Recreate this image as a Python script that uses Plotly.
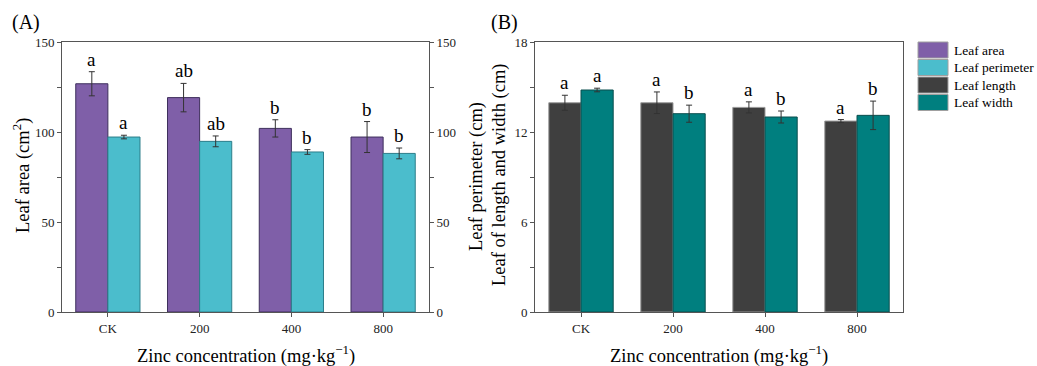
import plotly.graph_objects as go

categories = ["CK", "200", "400", "800"]

# Panel A
leaf_area = [126.8, 119.1, 102.0, 97.2]
leaf_area_err = [6.7, 7.9, 4.8, 8.6]
leaf_area_sig = ["a", "ab", "b", "b"]
leaf_perimeter = [97.2, 94.8, 88.9, 88.1]
leaf_perimeter_err = [1.0, 3.0, 1.3, 3.0]
leaf_perimeter_sig = ["a", "ab", "b", "b"]

# Panel B
leaf_length = [13.95, 13.95, 13.64, 12.73]
leaf_length_err = [0.5, 0.72, 0.37, 0.1]
leaf_length_sig = ["a", "a", "a", "a"]
leaf_width = [14.8, 13.22, 13.0, 13.11]
leaf_width_err = [0.12, 0.57, 0.4, 0.95]
leaf_width_sig = ["a", "b", "b", "b"]

series_names = ["Leaf area", "Leaf perimeter", "Leaf length", "Leaf width"]
colors = ["#7F5FA8", "#4BBDCC", "#3F3F3F", "#007F7F"]
edges = ["#3E2F5C", "#2C7E8A", "#9A9A9A", "#0B4F4F"]

FONT = "Liberation Serif, Times New Roman, serif"
W, H = 1037, 366
BW = 0.35

def px(x):
    return x / W

def py(y):
    return 1 - y / H

fig = go.Figure()

def add_bar(vals, errs, name, ci, xa, ya, offset):
    fig.add_trace(go.Bar(
        x=categories, y=vals, name=name, xaxis=xa, yaxis=ya,
        width=BW, offset=offset,
        marker=dict(color=colors[ci], line=dict(color=edges[ci], width=1)),
        error_y=dict(type="data", array=errs, visible=True,
                     color="#333333", thickness=1, width=3),
        showlegend=False,
    ))

add_bar(leaf_area, leaf_area_err, series_names[0], 0, "x", "y", -BW)
add_bar(leaf_perimeter, leaf_perimeter_err, series_names[1], 1, "x", "y3", 0)
add_bar(leaf_length, leaf_length_err, series_names[2], 2, "x2", "y2", -BW)
add_bar(leaf_width, leaf_width_err, series_names[3], 3, "x2", "y2", 0)

annotations = []

def add_letters(vals, errs, sigs, xref, yref, shift):
    for i, (v, e, s) in enumerate(zip(vals, errs, sigs)):
        annotations.append(dict(
            x=i + shift, y=v + e, xref=xref, yref=yref, text=s,
            showarrow=False, yanchor="bottom", xanchor="center",
            font=dict(family=FONT, size=19, color="black"), yshift=0,
        ))

add_letters(leaf_area, leaf_area_err, leaf_area_sig, "x", "y", -BW / 2)
add_letters(leaf_perimeter, leaf_perimeter_err, leaf_perimeter_sig, "x", "y", BW / 2)
add_letters(leaf_length, leaf_length_err, leaf_length_sig, "x2", "y2", -BW / 2)
add_letters(leaf_width, leaf_width_err, leaf_width_sig, "x2", "y2", BW / 2)

def text_ann(x, y, text, size=17, angle=0, xanchor="center"):
    annotations.append(dict(
        x=px(x), y=py(y), xref="paper", yref="paper", text=text,
        showarrow=False, textangle=angle, xanchor=xanchor, yanchor="middle",
        font=dict(family=FONT, size=size, color="black"),
    ))

text_ann(10, 23, "(A)", 20, xanchor="left")
text_ann(489, 23, "(B)", 20, xanchor="left")
text_ann(21, 176, "Leaf area (cm<sup>2</sup>)", 18.5, -90)
text_ann(476, 177, "Leaf perimeter (cm)", 18.5, -90)
text_ann(499, 175, "Leaf of length and width (cm)", 18.5, -90)
text_ann(246, 354, "Zinc concentration (mg·kg<sup>−1</sup>)", 18.5)
text_ann(719, 354, "Zinc concentration (mg·kg<sup>−1</sup>)", 18.5)

# custom legend
shapes = []
leg_tops = [42, 59.5, 77, 94.5]
for i, name in enumerate(series_names):
    shapes.append(dict(
        type="rect", xref="paper", yref="paper",
        x0=px(918), x1=px(948), y0=py(leg_tops[i] + 16), y1=py(leg_tops[i]),
        fillcolor=colors[i], line=dict(color="#A0A0A0", width=1),
    ))
    text_ann(952, leg_tops[i] + 8, name, 13.5, xanchor="left")

axis_line = "#555555"
tickfont = dict(family=FONT, size=13, color="#222222")

def yax(domain_top, domain_bot, rng, dtick, minor, **kw):
    d = dict(
        domain=[py(domain_bot), py(domain_top)], range=rng, dtick=dtick,
        showline=True, linecolor=axis_line, linewidth=1, automargin=False,
        ticks="outside", ticklen=4, tickcolor=axis_line, tickwidth=1,
        showgrid=False, zeroline=False, tickfont=tickfont,
        minor=dict(dtick=minor, ticks="outside", ticklen=4, tickcolor=axis_line, showgrid=False),
    )
    d.update(kw)
    return d

def xax(x0, x1, **kw):
    d = dict(
        domain=[px(x0), px(x1)], type="category", range=[-0.5, 3.5],
        showline=True, linecolor=axis_line, linewidth=1, mirror=True, automargin=False,
        ticks="outside", ticklen=4, tickcolor=axis_line, tickwidth=1,
        showgrid=False, zeroline=False, tickfont=tickfont,
    )
    d.update(kw)
    return d

fig.update_layout(
    width=W, height=H,
    margin=dict(l=0, r=0, t=0, b=0),
    paper_bgcolor="white", plot_bgcolor="white",
    xaxis=xax(62, 429, anchor="y"),
    yaxis=yax(42, 312, [0, 150], 50, 25, anchor="x"),
    yaxis3=yax(42, 312, [0, 150], 50, 25, anchor="x", overlaying="y", side="right"),
    xaxis2=xax(535, 903, anchor="y2"),
    yaxis2=yax(42, 312, [0, 18], 6, 3, anchor="x2", mirror=True),
    annotations=annotations,
    shapes=shapes,
    showlegend=False,
)

fig.write_html("out.html", config={"displayModeBar": False},
               post_script="document.body.style.margin='0';document.body.style.overflow='hidden';")
